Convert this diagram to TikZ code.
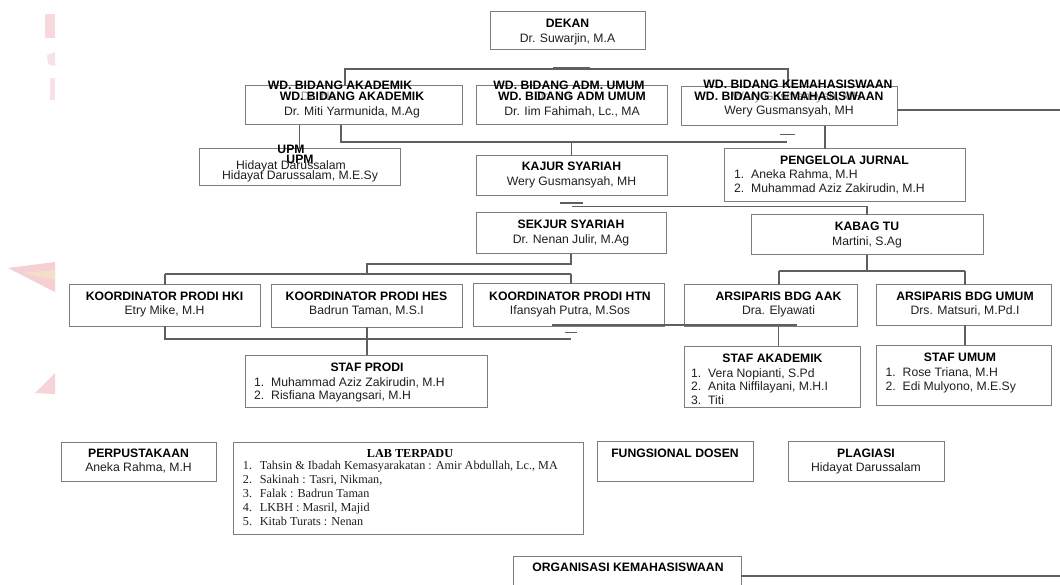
\documentclass[tikz,border=0pt]{standalone}
\usepackage{fontspec}
\setmainfont{Liberation Sans}
\newfontfamily\tms{Liberation Serif}
\newcommand{\fs}{\fontsize{12.2}{14}\selectfont}
\newcommand{\nb}[1]{\makebox[17pt][l]{#1}}
\newcommand{\bx}[5]{\node[box,minimum width={(#4)-(#2)},minimum height={(#5)-(#3)}] (#1) at ({((#2)+(#4))/2},{((#3)+(#5))/2}) {};}
\definecolor{boxc}{RGB}{125,125,125}
\definecolor{linec}{RGB}{95,95,95}
\definecolor{wm}{RGB}{236,160,170}
\definecolor{wmy}{RGB}{246,226,196}
\begin{document}
\begin{tikzpicture}[x=1pt,y=-1pt,
  box/.style={draw=boxc,line width=1pt,inner sep=0pt,outer sep=0pt},
  ln/.style={draw=linec,line width=1.05pt},
  dsh/.style={draw=linec,line width=1.4pt},
  ttl/.style={anchor=base,inner sep=0pt,font=\fs\bfseries},
  nm/.style={anchor=base,inner sep=0pt,font=\fs,text=black!88},
  ghost/.style={anchor=base,inner sep=0pt,font=\fs,text=black!45},
  itm/.style={anchor=base west,inner sep=0pt,font=\fs,text=black!88},
  tt/.style={anchor=base,inner sep=0pt,font=\fs\tms\bfseries},
  ti/.style={anchor=base west,inner sep=0pt,font=\fs\tms,text=black!88}]
\clip (0,0) rectangle (1060,585);
\fill[white] (0,0) rectangle (1060,585);
% watermark fragments
\fill[wm,opacity=.4] (45,14) rectangle (55,38);
\fill[wm,opacity=.3] (47,55) -- (55,52) -- (55,66) -- (48,64) -- cycle;
\fill[wm,opacity=.3] (50,78) rectangle (55,100);
\fill[wm,opacity=.5] (8,268) -- (55,262) -- (55,292) -- cycle;
\fill[wmy,opacity=.8] (22,273) -- (55,270) -- (55,280) -- cycle;
\fill[wm,opacity=.45] (35,393) -- (55,373) -- (55,394) -- cycle;
% boxes
\bx{dekan}{490}{12}{645}{50}
\bx{wdak}{245}{86}{462}{125}
\bx{wdadm}{476}{86}{667}{125}
\bx{wdkem}{681}{87}{897}{126}
\bx{upm}{199}{149}{400}{186}
\bx{kajur}{476}{156}{667}{196}
\bx{jurnal}{724}{149}{965}{202}
\bx{sekjur}{476}{213}{666}{254}
\bx{kabag}{751}{215}{983}{255}
\bx{hki}{69}{285}{260}{326}
\bx{hes}{271}{285}{462}{327}
\bx{htn}{473}{284}{664}{326}
\bx{aak}{684}{285}{857}{326}
\bx{arsum}{876}{285}{1051}{325}
\bx{stafprodi}{245}{355}{487}{407}
\bx{stafak}{684}{346}{860}{407}
\bx{stafum}{876}{345}{1051}{405}
\bx{perpus}{61}{442}{216}{481}
\bx{lab}{233}{442}{583}{534}
\bx{fungs}{597}{441}{753}{481}
\bx{plag}{788}{441}{944}{481}
\bx{ormawa}{513}{556}{741}{600}
% connectors
\coordinate (a1) at (345,69); \coordinate (a2) at (788,69);
\draw[ln] (wdak.north -| a1) -- (a1) -- (a2) -- (wdkem.north -| a2);
\coordinate (d1) at (553,67.6); \coordinate (d2) at (590,67.6);
\draw[dsh] (d1) -- (d2);
\draw[ln] (wdak.south -| upm.north) -- (upm.north);
\coordinate (b1) at (341,142); \coordinate (b2) at (787,142);
\draw[ln] (wdak.south -| b1) -- (b1) -- (b2);
\draw[ln] (kajur.north |- b1) -- (kajur.north);
\coordinate (c1) at (897,110); \coordinate (c2) at (1060,110);
\draw[ln] (c1) -- (c2);
\coordinate (e1) at (825,140);
\draw[ln] (wdkem.south -| e1) -- (jurnal.north -| e1);
\coordinate (d3) at (780,134.5); \coordinate (d4) at (795,134.5);
\draw[dsh] (d3) -- (d4);
\coordinate (f1) at (572,206.5);
\draw[ln] (f1) -| (kabag.north);
\coordinate (d5) at (560,203); \coordinate (d6) at (583,203);
\draw[dsh] (d5) -- (d6);
\coordinate (g1) at (367,264); \coordinate (g2) at (165,274); \coordinate (g3) at (571,274);
\draw[ln] (sekjur.south) |- (g1) -- (g1 |- g2);
\draw[ln] (g2) -- (g3);
\draw[ln] (g2) -- (hki.north -| g2);
\draw[ln] (g3) -- (htn.north -| g3);
\coordinate (h1) at (779,271); \coordinate (h2) at (965,271);
\draw[ln] (kabag.south) -- (kabag.south |- h1);
\draw[ln] (h1) -- (h2);
\draw[ln] (h1) -- (aak.north -| h1);
\draw[ln] (h2) -- (arsum.north -| h2);
\coordinate (i1) at (165,339); \coordinate (i2) at (571,339);
\draw[ln] (hki.south -| i1) -- (i1) -- (i2);
\coordinate (j1) at (367,340);
\draw[ln] (hes.south -| j1) -- (stafprodi.north -| j1);
\coordinate (k1) at (552,325); \coordinate (k2) at (797,325);
\draw[ln] (k1) -- (k2);
\coordinate (d7) at (565,332.5); \coordinate (d8) at (577,332.5);
\draw[dsh] (d7) -- (d8);
\coordinate (l1) at (778.5,336);
\draw[ln] (aak.south -| l1) -- (stafak.north -| l1);
\coordinate (m1) at (965,335);
\draw[ln] (arsum.south -| m1) -- (stafum.north -| m1);
\coordinate (n1) at (741,576); \coordinate (n2) at (1060,576);
\draw[ln] (n1) -- (n2);
% texts
\node[ttl] (t1) at (567.5,27.5) {DEKAN};
\node[nm] (t2) at (567.5,42.3) {Dr. Suwarjin, M.A};
\node[ttl] (t3) at (340,90) {WD. BIDANG AKADEMIK};
\node[ghost] (t4) at (320,101) {Dr. Nai};
\node[ttl] (t5) at (352,101) {WD. BIDANG AKADEMIK};
\node[nm] (t6) at (352,115.5) {Dr. Miti Yarmunida, M.Ag};
\node[ttl] (t7) at (569,90) {WD. BIDANG ADM. UMUM};
\node[ghost] (t8) at (553,101) {Dr. Iim};
\node[ttl] (t9) at (572,101) {WD. BIDANG ADM UMUM};
\node[nm] (t10) at (572,115.5) {Dr. Iim Fahimah, Lc., MA};
\node[ttl] (t11) at (798,89) {WD. BIDANG KEMAHASISWAAN};
\node[ghost] (t12) at (797,100.5) {Wery Gusmansyah, MH};
\node[ttl] (t13) at (789,100.5) {WD. BIDANG KEMAHASISWAAN};
\node[nm] (t14) at (789,114.5) {Wery Gusmansyah, MH};
\node[ttl] (t15) at (291,154) {UPM};
\node[ttl] (t16) at (300,164) {UPM};
\node[nm] (t17) at (291,170) {Hidayat Darussalam};
\node[nm] (t18) at (300,180) {Hidayat Darussalam, M.E.Sy};
\node[ttl] (t19) at (571.5,170.5) {KAJUR SYARIAH};
\node[nm] (t20) at (571.5,185.5) {Wery Gusmansyah, MH};
\node[ttl] (t21) at (844.5,165) {PENGELOLA JURNAL};
\node[itm] (t22) at (734,179) {\nb{1.}Aneka Rahma, M.H};
\node[itm] (t23) at (734,193) {\nb{2.}Muhammad Aziz Zakirudin, M.H};
\node[ttl] (t24) at (571,228.5) {SEKJUR SYARIAH};
\node[nm] (t25) at (571,243.5) {Dr. Nenan Julir, M.Ag};
\node[ttl] (t26) at (867,230.5) {KABAG TU};
\node[nm] (t27) at (867,245.5) {Martini, S.Ag};
\node[ttl] (t28) at (164.5,300.5) {KOORDINATOR PRODI HKI};
\node[nm] (t29) at (164.5,314.5) {Etry Mike, M.H};
\node[ttl] (t30) at (366.5,300.5) {KOORDINATOR PRODI HES};
\node[nm] (t31) at (366.5,314.5) {Badrun Taman, M.S.I};
\node[ttl] (t32) at (570,300.5) {KOORDINATOR PRODI HTN};
\node[nm] (t33) at (570,314.5) {Ifansyah Putra, M.Sos};
\node[ttl] (t34) at (778.5,301) {ARSIPARIS BDG AAK};
\node[nm] (t35) at (778.5,314.5) {Dra. Elyawati};
\node[ttl] (t36) at (965,301) {ARSIPARIS BDG UMUM};
\node[nm] (t37) at (965,314.5) {Drs. Matsuri, M.Pd.I};
\node[ttl] (t38) at (367,371) {STAF PRODI};
\node[itm] (t39) at (254,386) {\nb{1.}Muhammad Aziz Zakirudin, M.H};
\node[itm] (t40) at (254,399.5) {\nb{2.}Risfiana Mayangsari, M.H};
\node[ttl] (t41) at (772.5,362.5) {STAF AKADEMIK};
\node[itm] (t42) at (691,377) {\nb{1.}Vera Nopianti, S.Pd};
\node[itm] (t43) at (691,390.5) {\nb{2.}Anita Niffilayani, M.H.I};
\node[itm] (t44) at (691,404) {\nb{3.}Titi};
\node[ttl] (t45) at (960,361.5) {STAF UMUM};
\node[itm] (t46) at (885.5,376.5) {\nb{1.}Rose Triana, M.H};
\node[itm] (t47) at (885.5,390.5) {\nb{2.}Edi Mulyono, M.E.Sy};
\node[ttl] (t48) at (138.5,457.5) {PERPUSTAKAAN};
\node[nm] (t49) at (138.5,471.5) {Aneka Rahma, M.H};
\node[tt] (t50) at (410,457.5) {LAB TERPADU};
\node[ti] (t51) at (242.7,469) {\nb{1.}Tahsin \& Ibadah Kemasyarakatan : Amir Abdullah, Lc., MA};
\node[ti] (t52) at (242.7,483) {\nb{2.}Sakinah : Tasri, Nikman,};
\node[ti] (t53) at (242.7,497) {\nb{3.}Falak : Badrun Taman};
\node[ti] (t54) at (242.7,511) {\nb{4.}LKBH : Masril, Majid};
\node[ti] (t55) at (242.7,525) {\nb{5.}Kitab Turats : Nenan};
\node[ttl] (t56) at (675,457.5) {FUNGSIONAL DOSEN};
\node[ttl] (t57) at (866,457.5) {PLAGIASI};
\node[nm] (t58) at (866,471.5) {Hidayat Darussalam};
\node[ttl] (t59) at (628,571.5) {ORGANISASI KEMAHASISWAAN};
\end{tikzpicture}
\end{document}
